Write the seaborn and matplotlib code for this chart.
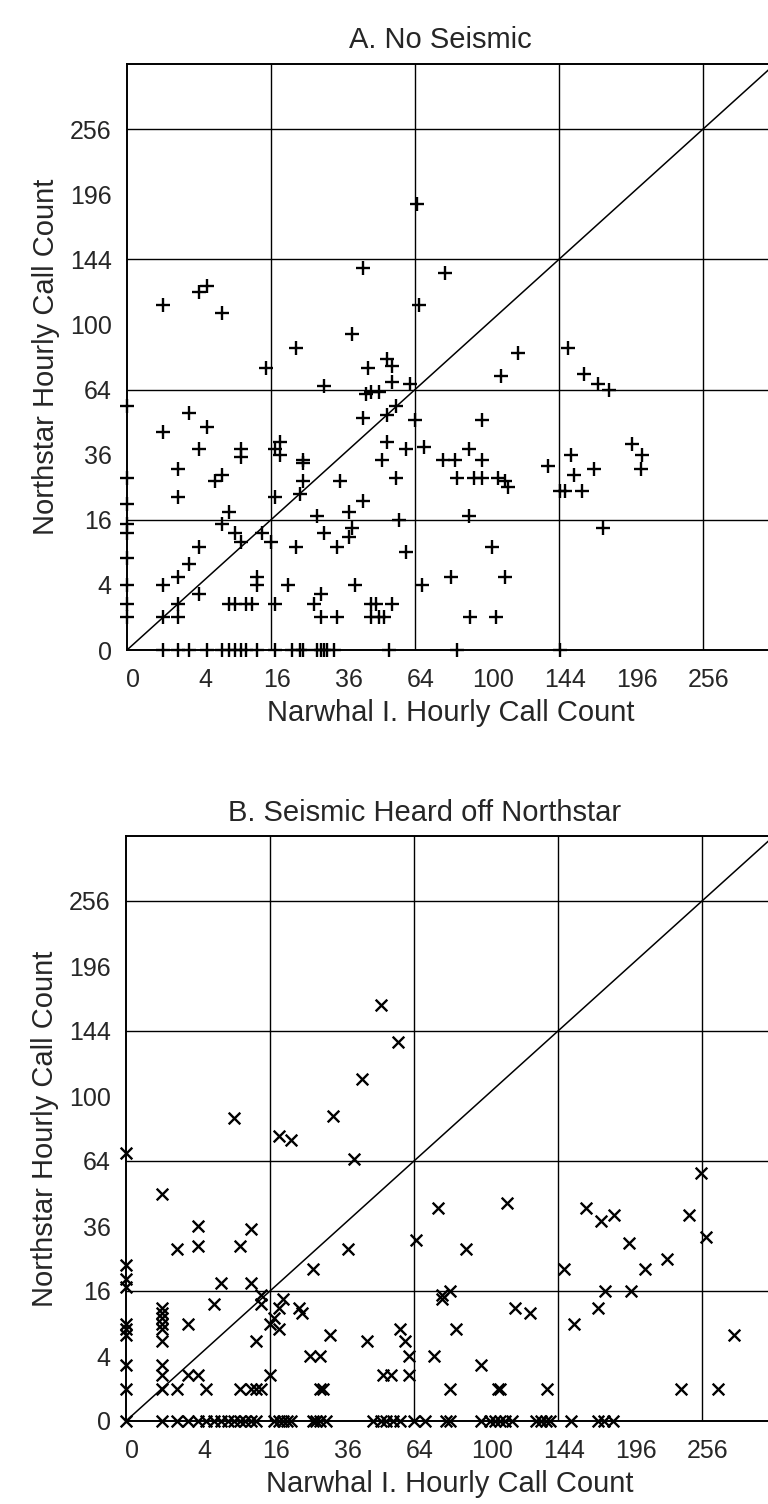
import numpy as np
import matplotlib
matplotlib.use("Agg")
import matplotlib.pyplot as plt
import matplotlib.transforms as mtransforms
import seaborn as sns
import pandas as pd

sns.set_style("white")
plt.rcParams["font.family"] = ["Liberation Sans", "DejaVu Sans"]

# Panel A: hours without seismic activity (Narwhal I. count, Northstar count)
narwhal_a = [
    65, 43, 78, 5, 4, 1, 7, 66, 39, 22, 150, 118, 52, 54, 15, 45, 54, 108, 161, 171, 179, 30, 62, 44, 46, 49,
    0, 3, 1, 5, 4, 2, 2, 6, 7, 10, 10, 17, 18, 18, 24, 24, 24, 23, 17, 35, 43, 43, 52, 56, 52, 50, 56, 60,
    64, 68, 97, 90, 77, 83, 97, 84, 93, 97, 106, 110, 112, 137, 152, 154, 168, 145, 148, 160, 197, 205, 204,
    90, 8, 28, 38, 57, 0, 0,
    175, 7, 9, 10, 14, 16, 4, 3, 2, 1, 4, 2, 1, 2, 0, 0, 0, 0, 0, 0, 13, 13, 20, 22, 8, 9, 11, 12, 17, 30,
    34, 39, 38, 40, 29, 27, 29, 34, 46, 48, 54, 46, 49, 51, 60, 67, 81, 103, 110, 91, 105,
    1, 2, 3, 5, 7, 8, 9, 10, 11, 13, 17, 21, 23, 24, 28, 29, 30, 31, 33, 53, 84, 145,
]
northstar_a = [
    188, 138, 134, 125, 121, 112, 107, 112, 94, 86, 86, 83, 80, 76, 75, 75, 68, 71, 72, 67, 64, 66, 67, 62, 63, 63,
    56, 53, 45, 47, 38, 31, 22, 27, 29, 38, 35, 38, 41, 36, 33, 34, 27, 23, 22, 27, 21, 51, 52, 56, 41, 34, 28, 38,
    50, 39, 50, 38, 34, 34, 34, 28, 28, 28, 28, 27, 25, 32, 36, 29, 31, 24, 24, 24, 40, 36, 31,
    17, 18, 17, 18, 16, 28, 20,
    14, 15, 13, 11, 13, 11, 10, 7, 5, 4, 3, 2, 1, 1, 15, 13, 8, 4, 2, 1, 5, 4, 4, 10, 2, 2, 2, 2, 2, 13,
    10, 14, 12, 4, 3, 2, 1, 1, 2, 2, 2, 1, 1, 1, 9, 4, 5, 10, 5, 1, 1,
    0, 0, 0, 0, 0, 0, 0, 0, 0, 0, 0, 0, 0, 0, 0, 0, 0, 0, 0, 0, 0, 0,
]

# Panel B: hours with seismic survey sounds heard off Northstar
narwhal_b = [
    50, 57, 43, 33, 9, 18, 21, 40, 0, 1, 4, 4, 2, 12, 10, 38, 27, 7, 12, 0, 0, 0,
    65, 75, 112, 89, 163, 174, 184, 195, 208, 226, 245, 255, 260, 148, 177, 197, 172, 155, 117, 126, 285,
    238, 270, 77, 81, 77, 84, 73, 97, 81, 107, 108, 137, 58, 60, 62, 62, 51, 54, 45, 32, 26, 29, 29, 30,
    24, 23, 18, 18, 17, 19, 16, 14, 14, 16, 13, 6, 3,
    1, 1, 1, 1, 1, 1, 1, 1, 1, 0, 0, 0, 0, 0, 0, 2, 3, 4, 5, 10, 12, 13, 14,
    1, 2, 3, 4, 5, 6, 7, 8, 9, 10, 11, 12, 13, 17, 18, 19, 20, 21, 27, 28, 29, 31, 47, 50, 52, 55, 58, 64,
    69, 79, 81, 97, 102, 105, 108, 111, 115, 130, 133, 136, 139, 153, 172, 176, 183,
]
northstar_b = [
    164, 136, 111, 88, 87, 77, 75, 65, 68, 49, 36, 29, 28, 35, 29, 28, 22, 18, 18, 23, 19, 17,
    31, 43, 45, 28, 43, 38, 40, 30, 22, 25, 40, 58, 32, 22, 16, 16, 12, 9, 12, 11, 7,
    1, 1, 15, 16, 14, 8, 4, 3, 1, 1, 1, 1, 8, 6, 4, 2, 2, 2, 6, 7, 4, 4, 1, 1,
    11, 12, 8, 12, 10, 14, 9, 15, 13, 2, 6, 13, 9,
    12, 11, 10, 9, 8, 6, 3, 2, 1, 9, 8, 7, 3, 1, 0, 1, 2, 2, 1, 1, 1, 1, 1,
    0, 0, 0, 0, 0, 0, 0, 0, 0, 0, 0, 0, 0, 0, 0, 0, 0, 0, 0, 0, 0, 0, 0, 0, 0, 0, 0, 0,
    0, 0, 0, 0, 0, 0, 0, 0, 0, 0, 0, 0, 0, 0, 0, 0, 0,
]

tick_values = [0, 4, 16, 36, 64, 100, 144, 196, 256]
grid_values = [16, 64, 144, 256]
axis_max = 324

W, H = 768, 1504
fig = plt.figure(figsize=(W / 100, H / 100), dpi=100)


def panel(rect, xs, ys, marker, size, title, title_xy):
    ax = fig.add_axes(rect)
    ax.set_xscale("function", functions=(np.sqrt, np.square))
    ax.set_yscale("function", functions=(np.sqrt, np.square))
    ax.set_xlim(0, axis_max)
    ax.set_ylim(0, axis_max)
    for g in grid_values:
        ax.axvline(g, color="black", lw=1.0, zorder=1)
        ax.axhline(g, color="black", lw=1.0, zorder=1)
    ax.plot([0, axis_max], [0, axis_max], color="black", lw=1.1, zorder=2)
    df = pd.DataFrame({"narwhal": xs, "northstar": ys})
    sns.scatterplot(data=df, x="narwhal", y="northstar", marker=marker, s=size,
                    color="black", linewidth=1.7, ax=ax, zorder=3, clip_on=False)
    ax.set_xticks(tick_values)
    ax.set_yticks(tick_values)
    ax.set_xticklabels([str(v) for v in tick_values])
    ax.set_yticklabels([str(v) for v in tick_values])
    ax.tick_params(direction="out", length=6, width=1.2, labelsize=18, color="black")
    ax.tick_params(axis="x", pad=7)
    ax.tick_params(axis="y", pad=5)
    # x tick labels sit slightly right of their ticks
    shift = mtransforms.ScaledTranslation(6 / 100, 0, fig.dpi_scale_trans)
    for lab in ax.get_xticklabels():
        lab.set_transform(lab.get_transform() + shift)
    for side in ["left", "bottom", "top"]:
        ax.spines[side].set_color("black")
        ax.spines[side].set_linewidth(1.4)
    ax.spines["right"].set_visible(False)
    ax.set_xlabel("Narwhal I. Hourly Call Count", fontsize=21, labelpad=5)
    ax.set_ylabel("Northstar Hourly Call Count", fontsize=21, labelpad=7)
    fig.text(title_xy[0], title_xy[1], title, fontsize=21, ha="center", va="center")
    return ax


panel([127 / W, 1 - 650 / H, 648 / W, 586 / H], narwhal_a, northstar_a, "+", 90,
      "A. No Seismic", (440 / W, 1 - 40 / H))
panel([126 / W, 1 - 1421 / H, 648 / W, 585 / H], narwhal_b, northstar_b, "x", 70,
      "B. Seismic Heard off Northstar", (425 / W, 1 - 813 / H))

fig.savefig("out.png", dpi=100)
